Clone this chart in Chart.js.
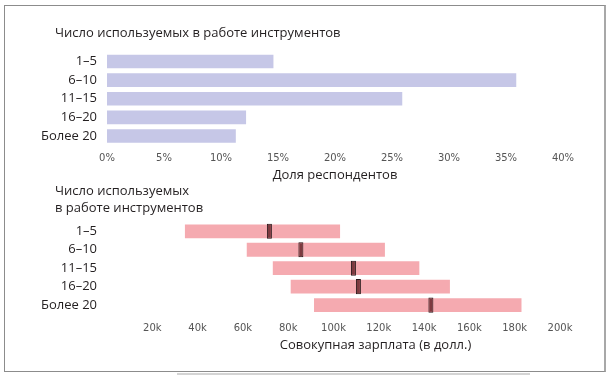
<!DOCTYPE html>
<html>
<head>
<meta charset="utf-8">
<script src="https://cdn.jsdelivr.net/npm/chart.js@4/dist/chart.umd.min.js"></script>
<style>
  html, body { margin: 0; padding: 0; background: #fff; }
  body { width: 611px; height: 378px; position: relative; overflow: hidden; }
  #frame { position: absolute; left: 4px; top: 5px; width: 599px; height: 365px;
           border: 1px solid #8c8c8c; border-right: 2px solid #a8a8a8; box-sizing: content-box; }
  #smear { position: absolute; left: 177px; top: 373px; width: 353px; height: 2px; background: #d4d4d4; }
  #c1 { position: absolute; left: 0; top: 0; }
  #c2 { position: absolute; left: 0; top: 178px; }
</style>
</head>
<body>
<div id="frame"></div>
<div id="smear"></div>
<canvas id="c1" width="611" height="185"></canvas>
<canvas id="c2" width="611" height="200"></canvas>
<script>
// ---- data ----
const categories = ['1–5', '6–10', '11–15', '16–20', 'Более 20'];
const shareTitle = 'Число используемых в работе инструментов';
const shareAxisTitle = 'Доля респондентов';
const shareValues = [14.6, 35.9, 25.9, 12.2, 11.3];          // % of respondents
const shareTicks = [0, 5, 10, 15, 20, 25, 30, 35, 40];

const payTitle = ['Число используемых', 'в работе инструментов'];
const payAxisTitle = 'Совокупная зарплата (в долл.)';
const payLow = [34400, 61700, 73200, 81100, 91400];           // range start, $
const payHigh = [102900, 122700, 137900, 151400, 183000];     // range end, $
const payMedian = [71700, 85600, 108800, 111000, 143000];     // median marker, $
const payMin = 0, payMax = 200000;
const payTicks = [20000, 40000, 60000, 80000, 100000, 120000, 140000, 160000, 180000, 200000];

// ---- styles ----
const labelFont = { family: '"Open Sans", sans-serif', size: 13 };
const tickFont = { family: '"DejaVu Sans", sans-serif', size: 10 };
const dark = '#231f20';
const tickColor = '#555555';
const MARK_HALF = 1100;      // half width of median marker in $ units
const TITLE_LEFT = 55;       // chart titles start here
const PAY_TITLE_SHIFT = 42;  // bottom axis title is offset right of the plot centre

Chart.defaults.animation = false;
Chart.defaults.responsive = false;

// moves the chart title so it starts at TITLE_LEFT
const titleShift = {
  id: 'titleShift',
  afterLayout(chart) {
    if (chart.titleBlock) chart.titleBlock.left = TITLE_LEFT;
  }
};

// ---- top chart ----
new Chart(document.getElementById('c1'), {
  type: 'bar',
  plugins: [titleShift],
  data: {
    labels: categories,
    datasets: [{
      data: shareValues,
      backgroundColor: '#c6c7e7',
      borderWidth: 0,
      categoryPercentage: 1,
      barPercentage: 0.73
    }]
  },
  options: {
    indexAxis: 'y',
    layout: { padding: { top: 25, left: 0, right: 48, bottom: 0 } },
    plugins: {
      legend: { display: false },
      tooltip: { enabled: false },
      title: {
        display: true, text: shareTitle, align: 'start', color: dark,
        font: { ...labelFont, weight: 'normal', lineHeight: 1.2 },
        padding: { top: 0, bottom: 11.6 }
      }
    },
    scales: {
      x: {
        min: shareTicks[0], max: shareTicks[shareTicks.length - 1],
        afterBuildTicks: s => { s.ticks = shareTicks.map(v => ({ value: v })); },
        afterFit: s => { s.height = 39.7; },
        grid: { display: false, drawTicks: false },
        border: { display: false },
        ticks: { font: tickFont, color: tickColor, padding: 7.5, maxRotation: 0, autoSkip: false,
                 callback: v => v + '%' },
        title: { display: true, text: shareAxisTitle, color: dark,
                 font: { ...labelFont, lineHeight: 1.2 }, padding: { top: 0, bottom: 2 } }
      },
      y: {
        afterFit: s => { s.width = 107; },
        grid: { display: false, drawTicks: false },
        border: { display: false },
        ticks: { font: labelFont, color: dark, padding: 10, autoSkip: false }
      }
    }
  }
});

// ---- bottom chart ----
const payChart = new Chart(document.getElementById('c2'), {
  type: 'bar',
  plugins: [titleShift],
  data: {
    labels: categories,
    datasets: [
      {
        data: payMedian.map(m => [m - MARK_HALF, m + MARK_HALF]),
        backgroundColor: '#7d3a3f',
        borderColor: '#2a1b1c',
        borderWidth: 1,
        borderSkipped: false,
        grouped: false,
        categoryPercentage: 1,
        barPercentage: 0.82,
        order: 0
      },
      {
        data: payLow.map((lo, i) => [lo, payHigh[i]]),
        backgroundColor: '#f5aab0',
        borderWidth: 0,
        grouped: false,
        categoryPercentage: 1,
        barPercentage: 0.75,
        order: 1
      }
    ]
  },
  options: {
    indexAxis: 'y',
    layout: { padding: { top: 5.4, left: 0, right: 51, bottom: 0 } },
    plugins: {
      legend: { display: false },
      tooltip: { enabled: false },
      title: {
        display: true, text: payTitle, align: 'start', color: dark,
        font: { ...labelFont, weight: 'normal', lineHeight: 1.28 },
        padding: { top: 0, bottom: 5.4 }
      }
    },
    scales: {
      x: {
        min: payMin, max: payMax,
        afterBuildTicks: s => { s.ticks = payTicks.map(v => ({ value: v })); },
        afterFit: s => { s.height = 63.7; },
        grid: { display: false, drawTicks: false },
        border: { display: false },
        ticks: { font: tickFont, color: tickColor, padding: 8, maxRotation: 0, autoSkip: false,
                 callback: v => (v / 1000) + 'k' },
        title: { display: true, text: payAxisTitle, color: dark,
                 font: { ...labelFont, lineHeight: 1.2 }, padding: { top: 0, bottom: 25 } }
      },
      y: {
        afterFit: s => { s.width = 107; },
        grid: { display: false, drawTicks: false },
        border: { display: false },
        ticks: { font: labelFont, color: dark, padding: 10, autoSkip: false }
      }
    }
  }
});

// shift the bottom axis title to the right, as in the reference
(function () {
  const sc = payChart.scales.x;
  const orig = sc.drawTitle;
  sc.drawTitle = function () {
    const l = this.left, r = this.right;
    this.left = l + PAY_TITLE_SHIFT; this.right = r + PAY_TITLE_SHIFT;
    orig.call(this);
    this.left = l; this.right = r;
  };
  payChart.draw();
})();
</script>
</body>
</html>
